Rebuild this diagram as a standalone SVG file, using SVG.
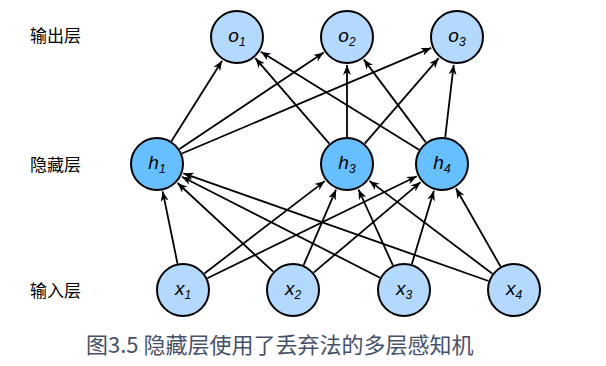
<svg xmlns="http://www.w3.org/2000/svg" width="606" height="366" viewBox="0 0 606 366">
<style>
.light{fill:#b3d9ff;stroke:#000;stroke-width:2}
.dark{fill:#66bfff;stroke:#000;stroke-width:2}
.lbl{font-family:"Liberation Sans",Arial,sans-serif;font-style:italic;font-size:19px;fill:#000;text-anchor:middle}
.sub{font-size:12px}
.layer{font-family:"Noto Sans CJK SC",sans-serif;font-size:17px;fill:#000}
.cap{font-family:"Noto Sans CJK SC",sans-serif;font-size:22px;fill:#45516b}
#edges line{stroke:#000;stroke-width:1.8;marker-end:url(#arr)}
</style>
<defs>
<marker id="arr" markerUnits="userSpaceOnUse" markerWidth="11" markerHeight="9" refX="10" refY="4" orient="auto">
<path d="M0,0 L10,4 L0,8 L3,4 z" fill="#000"/>
</marker>
</defs>
<rect width="606" height="366" fill="#fff"/>
<text class="layer" x="30" y="42">输出层</text>
<text class="layer" x="30" y="171">隐藏层</text>
<text class="layer" x="30" y="297">输入层</text>
<g id="edges">
<line x1="171.4" y1="141.2" x2="222.1" y2="60.7"/>
<line x1="179.5" y1="149.0" x2="323.7" y2="52.6"/>
<line x1="181.9" y1="153.5" x2="431.2" y2="47.9"/>
<line x1="329.3" y1="143.6" x2="255.3" y2="58.2"/>
<line x1="347" y1="137" x2="347" y2="65"/>
<line x1="364.7" y1="143.6" x2="438.7" y2="58.2"/>
<line x1="419.0" y1="149.8" x2="260.8" y2="51.7"/>
<line x1="425.8" y1="142.4" x2="363.8" y2="59.4"/>
<line x1="445.2" y1="137.2" x2="453.7" y2="64.8"/>
<line x1="177.5" y1="263.6" x2="162.7" y2="191.4"/>
<line x1="204.4" y1="273.5" x2="324.8" y2="181.1"/>
<line x1="207.3" y1="278.2" x2="416.8" y2="176.3"/>
<line x1="273.2" y1="271.7" x2="177.5" y2="183.0"/>
<line x1="303.6" y1="265.2" x2="336.0" y2="189.7"/>
<line x1="313.6" y1="272.6" x2="420.6" y2="182.1"/>
<line x1="380.0" y1="277.7" x2="181.9" y2="176.7"/>
<line x1="392.9" y1="265.4" x2="358.5" y2="189.5"/>
<line x1="411.8" y1="264.2" x2="433.9" y2="190.8"/>
<line x1="488.5" y1="281.0" x2="183.4" y2="173.3"/>
<line x1="492.4" y1="273.7" x2="369.4" y2="180.9"/>
<line x1="500.6" y1="266.6" x2="455.9" y2="188.3"/>
</g>
<g id="o1"><circle class="light" cx="237" cy="37" r="26"/><text class="lbl" x="237" y="42">o<tspan class="sub" dy="4">1</tspan></text></g>
<g id="o2"><circle class="light" cx="347" cy="37" r="26"/><text class="lbl" x="347" y="42">o<tspan class="sub" dy="4">2</tspan></text></g>
<g id="o3"><circle class="light" cx="457" cy="37" r="26"/><text class="lbl" x="457" y="42">o<tspan class="sub" dy="4">3</tspan></text></g>
<g id="h1"><circle class="dark" cx="157" cy="164" r="26"/><text class="lbl" x="157" y="169">h<tspan class="sub" dy="4">1</tspan></text></g>
<g id="h3"><circle class="dark" cx="347" cy="164" r="26"/><text class="lbl" x="347" y="169">h<tspan class="sub" dy="4">3</tspan></text></g>
<g id="h4"><circle class="dark" cx="442" cy="164" r="26"/><text class="lbl" x="442" y="169">h<tspan class="sub" dy="4">4</tspan></text></g>
<g id="x1"><circle class="light" cx="183" cy="290" r="26"/><text class="lbl" x="183" y="295">x<tspan class="sub" dy="4">1</tspan></text></g>
<g id="x2"><circle class="light" cx="293" cy="290" r="26"/><text class="lbl" x="293" y="295">x<tspan class="sub" dy="4">2</tspan></text></g>
<g id="x3"><circle class="light" cx="404" cy="290" r="26"/><text class="lbl" x="404" y="295">x<tspan class="sub" dy="4">3</tspan></text></g>
<g id="x4"><circle class="light" cx="514" cy="290" r="26"/><text class="lbl" x="514" y="295">x<tspan class="sub" dy="4">4</tspan></text></g>
<text class="cap" x="86" y="353">图3.5 隐藏层使用了丢弃法的多层感知机</text>
</svg>
